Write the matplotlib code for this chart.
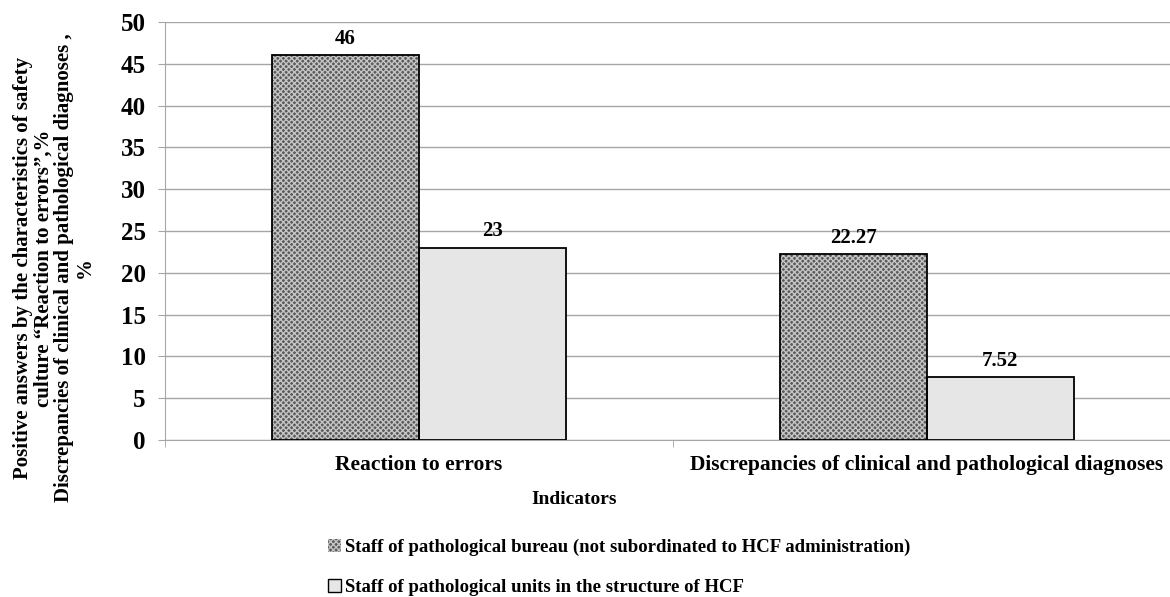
import matplotlib
matplotlib.use("Agg")
import matplotlib.pyplot as plt
import numpy as np
from matplotlib.patches import Patch

categories = ["Reaction to errors", "Discrepancies of clinical and pathological diagnoses"]
series_names = ["Staff of pathological bureau (not subordinated to HCF administration)",
                "Staff of pathological units in the structure of HCF"]
bureau = [46, 22.27]
units = [23, 7.52]
bureau_labels = ["46", "22.27"]
units_labels = ["23", "7.52"]
yticks = [0, 5, 10, 15, 20, 25, 30, 35, 40, 45, 50]

plt.rcParams['font.family'] = ['Liberation Serif', 'DejaVu Serif']
plt.rcParams['font.weight'] = 'bold'
plt.rcParams['hatch.linewidth'] = 1.0

fig = plt.figure(figsize=(11.7, 5.97), dpi=100)
W, H = 1170, 597
left, right, top, bottom = 165, 1181, 22, 440
ax = fig.add_axes([left / W, 1 - bottom / H, (right - left) / W, (bottom - top) / H])

x = np.arange(len(categories))
bw = 0.289
grid_c = '#a6a6a6'
dark_face = '#5a5a5a'
hatch_c = '#c4c4c4'

# dark checkered bars
ax.bar(x - bw / 2, bureau, bw, color=dark_face, hatch='xxxxxx', edgecolor=hatch_c, linewidth=0, zorder=3)
ax.bar(x - bw / 2, bureau, bw, fill=False, edgecolor='black', linewidth=1.3, zorder=4)
ax.bar(x + bw / 2, units, bw, color='#e6e6e6', edgecolor='black', linewidth=1.3, zorder=3)

for xi, v, t in zip(x, bureau, bureau_labels):
    ax.text(xi - bw / 2, v + 0.75, t, ha='center', va='bottom', fontsize=15, fontweight='bold', zorder=5)
for xi, v, t in zip(x, units, units_labels):
    ax.text(xi + bw / 2, v + 0.75, t, ha='center', va='bottom', fontsize=15, fontweight='bold', zorder=5)

ax.set_xlim(-0.5, len(categories) - 0.5)
ax.set_ylim(0, 50)
ax.set_yticks(yticks)
ax.set_yticklabels([str(t) for t in yticks], fontsize=18, fontweight='bold')
ax.yaxis.grid(True, color=grid_c, linewidth=1.0, zorder=0)
ax.set_axisbelow(True)

ax.set_xticks(x)
ax.set_xticklabels(categories, fontsize=15.5, fontweight='bold')
ax.tick_params(axis='x', length=0, pad=11)
ax.set_xticks([-0.5, 0.5, 1.5], minor=True)
ax.tick_params(axis='x', which='minor', length=5, color=grid_c, direction='out')
ax.tick_params(axis='y', length=5, color=grid_c, direction='out', pad=9)

for s in ['top', 'right']:
    ax.spines[s].set_visible(False)
ax.spines['left'].set_color(grid_c)
ax.spines['bottom'].set_color(grid_c)

fig.text(574 / W, 1 - 500 / H, "Indicators", ha='center', va='center',
         fontsize=14, fontweight='bold')
fig.text(54 / W, 1 - 268 / H,
         "Positive answers by the characteristics of safety\n"
         "culture \u201cReaction to errors\u201d,%\n"
         "Discrepancies of clinical and pathological diagnoses ,\n%",
         rotation=90, ha='center', va='center', fontsize=15, fontweight='bold',
         linespacing=1.05, multialignment='center')

handles = [Patch(facecolor=dark_face, hatch='xxxxxx', edgecolor=hatch_c, linewidth=0),
           Patch(facecolor='#e6e6e6', edgecolor='black', linewidth=1)]
leg = fig.legend(handles, series_names, loc='upper left', bbox_to_anchor=(328 / W, 1 - 539 / H),
                 frameon=False, ncol=1, prop={'size': 13.5, 'weight': 'bold'},
                 handlelength=0.7, handleheight=0.7, handletextpad=0.2, labelspacing=1.2,
                 borderaxespad=0, borderpad=0)

fig.savefig("out.png", dpi=100)
